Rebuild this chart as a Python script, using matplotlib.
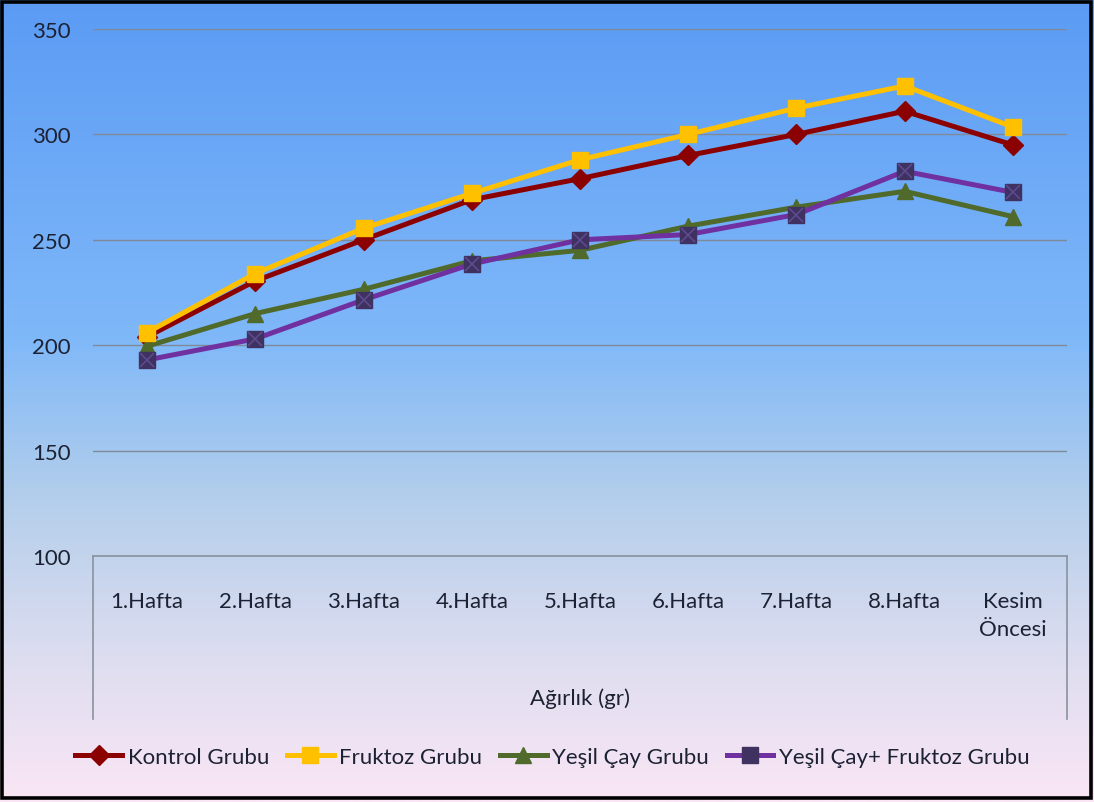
import numpy as np
import matplotlib
matplotlib.use("Agg")
import matplotlib.pyplot as plt
from matplotlib.colors import LinearSegmentedColormap
from matplotlib.lines import Line2D

plt.rcParams['font.family'] = ['Lato', 'DejaVu Sans']

categories = ["1.Hafta", "2.Hafta", "3.Hafta", "4.Hafta", "5.Hafta",
              "6.Hafta", "7.Hafta", "8.Hafta", "Kesim\nÖncesi"]
kontrol = [204, 230.5, 250, 269, 279, 290, 300, 311, 295]
fruktoz = [206, 234, 255.5, 272, 288, 300, 312.5, 323, 303.5]
yesil_cay = [199.5, 215, 226.5, 240, 245, 256.5, 265.5, 273, 261]
yesil_cay_fruktoz = [193, 203, 221.5, 238.5, 250, 252.5, 262, 282.5, 272.5]
series_names = ["Kontrol Grubu", "Fruktoz Grubu", "Yeşil Çay Grubu",
                "Yeşil Çay+ Fruktoz Grubu"]
axis_title = "Ağırlık (gr)"
y_ticks = [100, 150, 200, 250, 300, 350]

W, H = 1094, 803
fig = plt.figure(figsize=(W / 100, H / 100), dpi=100)
FS = 16

# vertical gradient background
bg = fig.add_axes([0, 0, 1, 1], zorder=-10)
cmap = LinearSegmentedColormap.from_list(
    "bg", [(0.0, "#5B9BF4"), (0.42, "#7FB8F9"), (0.62, "#B3CEEB"),
           (0.82, "#DDDDF0"), (1.0, "#FAE6F5")])
grad = np.linspace(0, 1, 512).reshape(-1, 1)
bg.imshow(grad, aspect="auto", cmap=cmap, extent=[0, 1, 0, 1], origin="upper")
bg.set_axis_off()
# outer frame
bg.add_patch(plt.Rectangle((0.0015, 0.0045), 0.996, 0.992, fill=False,
                           edgecolor="black", linewidth=2.6,
                           transform=bg.transAxes))

left, right = 93 / W, 1067 / W
bottom, top = (H - 557) / H, (H - 30) / H
ax = fig.add_axes([left, bottom, right - left, top - bottom])
ax.patch.set_alpha(0)

x = np.arange(len(categories))
text_color = "#1C2233"

ax.plot(x, kontrol, color="#8B0000", lw=3.6, marker="D", ms=10,
        mfc="#8B0000", mec="#8B0000", zorder=3, label=series_names[0])
ax.plot(x, fruktoz, color="#FFC000", lw=3.6, marker="s", ms=12,
        mfc="#FFC000", mec="#FFC000", zorder=4, label=series_names[1])
ax.plot(x, yesil_cay, color="#4F6A2A", lw=3.6, marker="^", ms=12,
        mfc="#4F6A2A", mec="#4F6A2A", zorder=3, label=series_names[2])
ax.plot(x, yesil_cay_fruktoz, color="#7030A0", lw=3.6, marker="s", ms=12,
        mfc="#3F3160", mec="#3F3160", zorder=3, label=series_names[3])
ax.plot(x, yesil_cay_fruktoz, ls="none", marker="x", ms=10, mew=1.2,
        color="#5E4A90", zorder=3.5)

ax.set_xlim(-0.5, len(categories) - 0.5)
ax.set_ylim(100, 350)
ax.set_yticks(y_ticks)
ax.yaxis.grid(True, color="#7F8A99", lw=1.0)
ax.set_axisbelow(True)
for s in ["top", "right", "left"]:
    ax.spines[s].set_visible(False)
ax.spines["bottom"].set_color("#8A929E")
ax.spines["bottom"].set_linewidth(1.2)
ax.tick_params(axis="y", length=0, pad=16, labelsize=FS, labelcolor=text_color)
ax.tick_params(axis="x", length=0, pad=0)
ax.set_xticks([])

# category labels and outer group label
for xi, lab in zip(x, categories):
    ax.annotate(lab, xy=(xi, 100), xycoords="data", xytext=(0, -25),
                textcoords="offset points", ha="center", va="top",
                fontsize=FS, color=text_color, linespacing=1.5,
                annotation_clip=False)
ax.text(0.5, -0.268, axis_title, transform=ax.transAxes, ha="center",
        va="center", fontsize=FS, color=text_color)

# category axis box sides
box_depth = (720 - 557) / 527
for xf in (0, 1):
    ax.plot([xf, xf], [0, -box_depth], transform=ax.transAxes, clip_on=False,
            color="#8A929E", lw=1.2)

handles = [
    Line2D([], [], color="#8B0000", lw=3.6, marker="D", ms=10,
           mfc="#8B0000", mec="#8B0000"),
    Line2D([], [], color="#FFC000", lw=3.6, marker="s", ms=12,
           mfc="#FFC000", mec="#FFC000"),
    Line2D([], [], color="#4F6A2A", lw=3.6, marker="^", ms=12,
           mfc="#4F6A2A", mec="#4F6A2A"),
    Line2D([], [], color="#7030A0", lw=3.6, marker="s", ms=12,
           mfc="#3F3160", mec="#3F3160"),
]
fig.legend(handles, series_names, loc="center", ncol=4,
           bbox_to_anchor=(0.505, (H - 758) / H), frameon=False,
           fontsize=FS, labelcolor=text_color, handlelength=2.1,
           handletextpad=0.25, columnspacing=0.8)

fig.savefig("out.png", dpi=100)
